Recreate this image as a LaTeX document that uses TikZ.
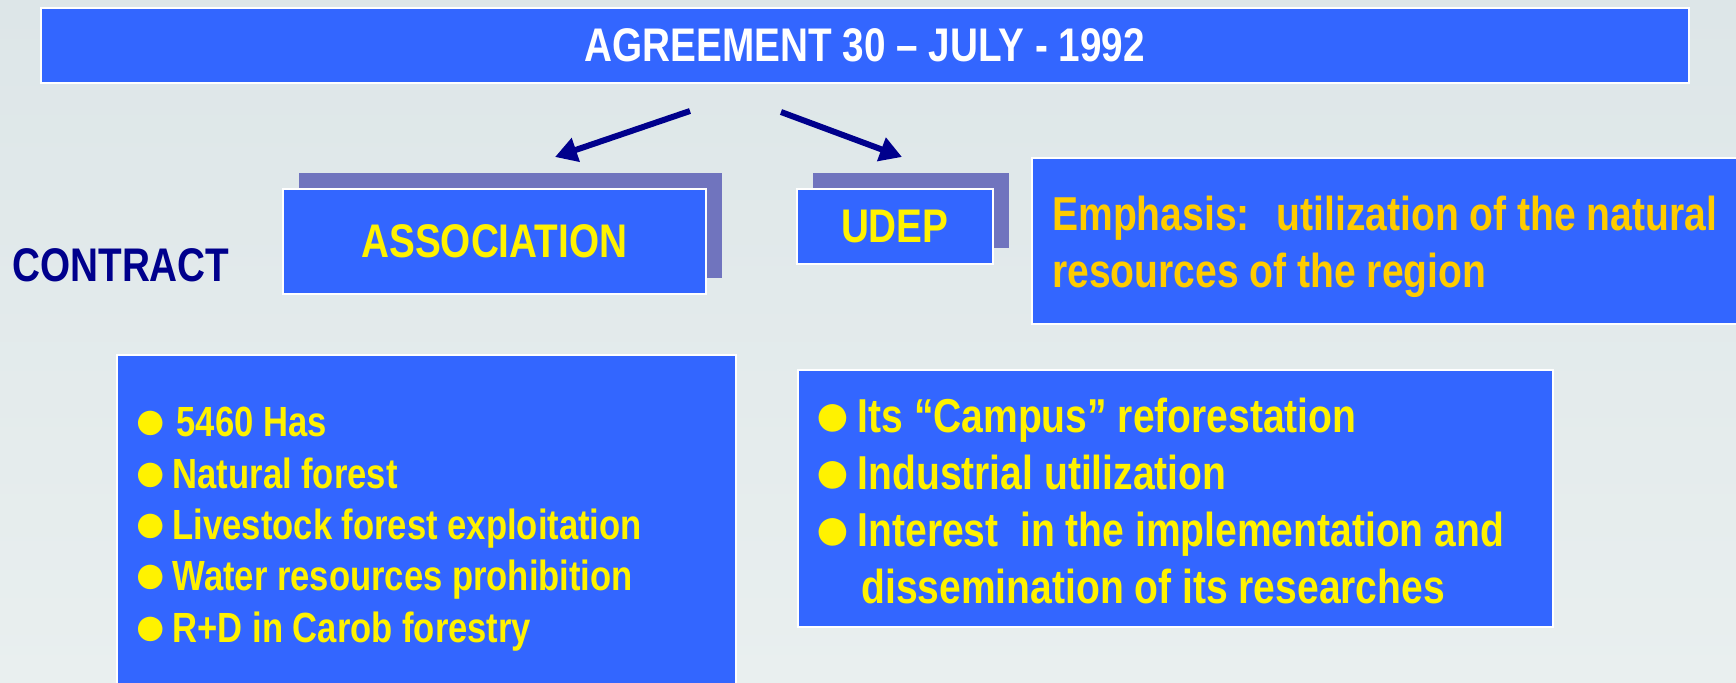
\documentclass[tikz,border=0pt]{standalone}
\usepackage{fontspec}
\setmainfont{Liberation Sans}[FakeStretch=0.82]
\newfontfamily\bulletfont{Liberation Sans}[Scale=1.35]
\usetikzlibrary{arrows.meta,shadows}
\definecolor{boxblue}{RGB}{51,102,255}
\definecolor{boxshadow}{RGB}{112,116,190}
\definecolor{arrownavy}{RGB}{0,0,140}
\definecolor{gold}{RGB}{255,204,0}
\definecolor{bgtop}{RGB}{221,230,232}
\definecolor{bgbottom}{RGB}{233,239,239}
\newcommand{\bul}{\makebox[0.93em][l]{\raisebox{-0.07em}[0pt][0pt]{\bulletfont ●}}}

\begin{document}
\begin{tikzpicture}[x=0.5pt, y=-0.5pt,
    box/.style={fill=boxblue, draw=white, line width=0.8pt, inner sep=0pt, anchor=north west},
    shadowed/.style={drop shadow={shadow xshift=8.25pt, shadow yshift=7.75pt, fill=boxshadow, opacity=1}},
    big/.style={font=\fontsize{23.6}{28}\selectfont\bfseries},
    item/.style={anchor=base west, inner sep=0pt, text=yellow},
    link/.style={draw=arrownavy, line width=3pt, -{Triangle[length=11pt,width=12pt]}}]
  \useasboundingbox (0,0) rectangle (1736,683);
  \clip (0,0) rectangle (1736,683);
  \shade[top color=bgtop, bottom color=bgbottom] (0,0) rectangle (1736,683);

  % header
  \node[box, big, text=white, minimum width=824pt, minimum height=37.5pt] (agree) at (40,7) {AGREEMENT 30 – JULY - 1992};

  % the two parties
  \node[box, shadowed, big, text=yellow, minimum width=211.5pt, minimum height=52.5pt] (assoc) at (282,188) {ASSOCIATION};
  \node[box, shadowed, big, text=yellow, minimum width=98pt, minimum height=37.5pt] (udep) at (796,188) {UDEP};
  \node[big, text=arrownavy, anchor=base west, inner sep=0pt] (contract) at (12,282) {CONTRACT};

  \coordinate (splitL) at (690,111);
  \coordinate (splitR) at (781,112);
  \coordinate (toAssoc) at (555,157);
  \coordinate (toUdep) at (902,157);
  \draw[link] (splitL) -- (toAssoc);
  \draw[link] (splitR) -- (toUdep);

  % emphasis
  \node[box, minimum width=360pt, minimum height=83pt] (emph) at (1031,157) {};
  \node[item, text=gold, font=\fontsize{23.8}{28}\selectfont\bfseries] (emph1) at (1052,231) {Emphasis:\hspace{13.5pt}utilization of the natural};
  \node[item, text=gold, font=\fontsize{23.8}{28}\selectfont\bfseries] (emph2) at (1052,288) {resources of the region};

  % what each party brings
  \node[box, minimum width=309.5pt, minimum height=173pt] (assoclist) at (116,354) {};
  \foreach \txt [count=\i] in {{\hspace{2pt}5460 Has}, Natural forest, Livestock forest exploitation, Water resources prohibition, R+D in Carob forestry}
    \node[item, font=\fontsize{21.1}{25}\selectfont\bfseries] (aitem\i) at (133,{437+51.3*(\i-1)}) {\bul\txt};

  \node[box, minimum width=377.5pt, minimum height=128.5pt] (udeplist) at (797,369) {};
  \foreach \txt [count=\i] in {Its “Campus” reforestation, Industrial utilization, Interest\ \ in the implementation and}
    \node[item, font=\fontsize{23.8}{28}\selectfont\bfseries] (uitem\i) at (813,{433+57*(\i-1)}) {\bul\txt};
  \node[item, font=\fontsize{23.8}{28}\selectfont\bfseries] (uitem4) at (861,604) {dissemination of its researches};
\end{tikzpicture}
\end{document}
